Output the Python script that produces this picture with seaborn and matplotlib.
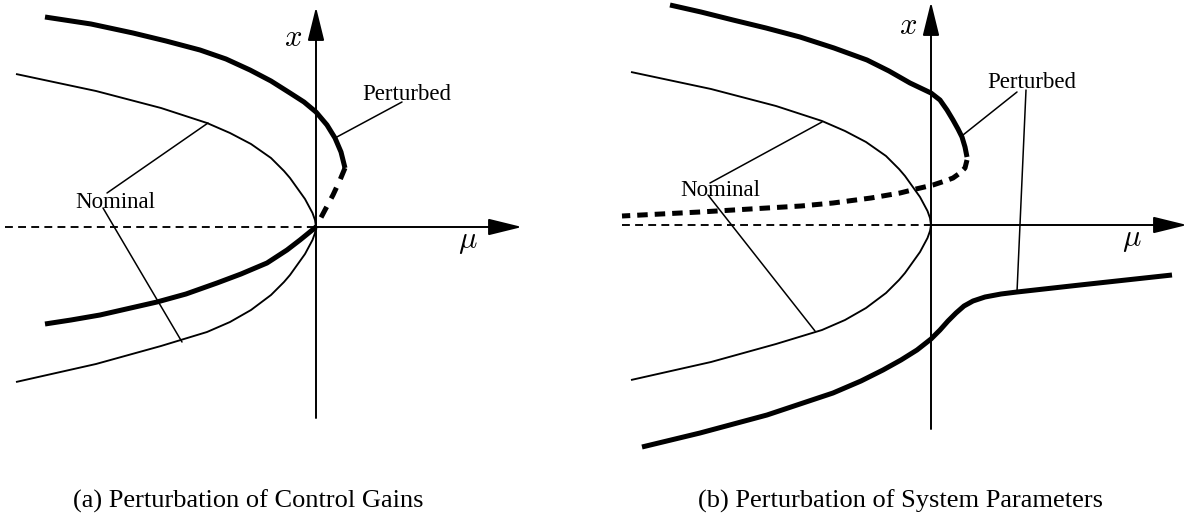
import matplotlib
matplotlib.use("Agg")
import matplotlib.pyplot as plt
import seaborn as sns

# ---------------------------------------------------------------------------
# Bifurcation branches (mu on the horizontal axis, x on the vertical axis)
# ---------------------------------------------------------------------------
# nominal pitchfork, shared by both panels
nom_mu = [-3.00, -2.20, -1.55, -1.09, -0.86, -0.65, -0.45, -0.32, -0.26,
          -0.21, -0.16, -0.11, -0.035, -0.01, 0.0]
nom_up = [1.53, 1.36, 1.19, 1.04, 0.94, 0.83, 0.69, 0.56, 0.49,
          0.42, 0.35, 0.28, 0.14, 0.07, 0.0]
nom_lo = [-1.55, -1.37, -1.19, -1.05, -0.95, -0.83, -0.68, -0.55, -0.48,
          -0.41, -0.34, -0.27, -0.13, -0.06, 0.0]

# (a) perturbation of control gains
a_up_mu = [-2.71, -2.25, -1.83, -1.50, -1.16, -0.90, -0.66, -0.45, -0.26,
           -0.12, 0.00, 0.11, 0.19, 0.25, 0.29]
a_up_x = [2.10, 2.03, 1.94, 1.86, 1.77, 1.68, 1.57, 1.46, 1.34,
          1.25, 1.15, 1.02, 0.89, 0.75, 0.59]
a_unst_mu = [0.29, 0.24, 0.17, 0.09, 0.00]
a_unst_x = [0.59, 0.47, 0.32, 0.17, 0.00]
a_lo_mu = [-2.71, -2.45, -2.16, -1.59, -1.30, -0.99, -0.75, -0.49, -0.29,
           -0.16, -0.08, 0.00]
a_lo_x = [-0.97, -0.93, -0.88, -0.75, -0.67, -0.56, -0.47, -0.36, -0.23,
          -0.13, -0.065, 0.00]
a_triv_mu = [-3.11, 0.0]

# (b) perturbation of system parameters
b_up_mu = [-2.61, -2.30, -1.98, -1.65, -1.31, -0.97, -0.64, -0.42, -0.21,
           0.00, 0.09, 0.16, 0.22, 0.27, 0.31, 0.34, 0.36]
b_up_x = [2.20, 2.13, 2.05, 1.97, 1.88, 1.77, 1.65, 1.54, 1.42,
          1.32, 1.25, 1.15, 1.05, 0.96, 0.88, 0.78, 0.68]
b_unst_mu = [0.36, 0.34, 0.29, 0.22, 0.14, 0.02, -0.15, -0.31, -0.60,
             -0.98, -1.30, -1.64, -2.31, -3.09]
b_unst_x = [0.65, 0.57, 0.52, 0.47, 0.44, 0.40, 0.36, 0.32, 0.27,
            0.22, 0.19, 0.17, 0.13, 0.09]
b_lo_mu = [-2.89, -2.31, -1.64, -0.98, -0.70, -0.48, -0.30, -0.14, 0.00,
           0.09, 0.17, 0.25, 0.33, 0.42, 0.54, 0.70, 0.86, 1.49, 2.41]
b_lo_x = [-2.22, -2.08, -1.90, -1.68, -1.56, -1.45, -1.35, -1.25, -1.14,
          -1.05, -0.96, -0.88, -0.81, -0.76, -0.72, -0.69, -0.67, -0.60, -0.50]
b_triv_mu = [-3.09, 0.0]

captions = ["(a) Perturbation of Control Gains", "(b) Perturbation of System Parameters"]

sns.set_theme(style="white")
plt.rcParams["font.family"] = ["Liberation Serif", "DejaVu Serif"]
plt.rcParams["mathtext.fontset"] = "cm"
plt.rcParams["text.color"] = "black"

fig = plt.figure(figsize=(11.98, 5.25), dpi=100)
W, H = 1198.0, 525.0


def panel_axes(left_px, right_px, ox, oy, top_px=0, bottom_px=470):
    """Axes whose data units are 100 px, with the origin at pixel (ox, oy)."""
    ax = fig.add_axes([left_px / W, 1 - bottom_px / H,
                       (right_px - left_px) / W, (bottom_px - top_px) / H])
    ax.set_xlim((left_px - ox) / 100, (right_px - ox) / 100)
    ax.set_ylim((oy - bottom_px) / 100, (oy - top_px) / 100)
    ax.set_axis_off()
    return ax


THIN, THICK = 1.35, 3.6


def curve(ax, mu, x, lw, ls="-"):
    sns.lineplot(x=mu, y=x, sort=False, estimator=None, color="black",
                 lw=lw, linestyle=ls, ax=ax, solid_capstyle="butt",
                 solid_joinstyle="round", dash_joinstyle="round")


def axes_arrows(ax, mu_tip, x_bot, x_tip):
    style = dict(arrowstyle="-|>,head_length=1.3,head_width=0.32",
                 mutation_scale=16, lw=1.4, color="black",
                 shrinkA=0, shrinkB=0)
    ax.annotate("", xy=(mu_tip, 0), xytext=(0, 0), arrowprops=style)
    ax.annotate("", xy=(0, x_tip), xytext=(0, x_bot), arrowprops=style)


def leader(ax, p, q):
    sns.lineplot(x=[p[0], q[0]], y=[p[1], q[1]], sort=False, estimator=None,
                 color="black", lw=1.1, ax=ax)


# ---------------- panel (a) ----------------
axa = panel_axes(0, 600, 316, 227)
axes_arrows(axa, 2.06, -1.91, 2.20)
curve(axa, a_triv_mu, [0, 0], THIN, (0, (4.2, 2.8)))
curve(axa, nom_mu, nom_up, THIN)
curve(axa, nom_mu, nom_lo, THIN)
curve(axa, a_up_mu, a_up_x, THICK)
curve(axa, a_unst_mu, a_unst_x, THICK, (0, (2.4, 1.9)))
curve(axa, a_lo_mu, a_lo_x, THICK)
axa.text(-2.01, 0.25, "Nominal", ha="center", va="center", fontsize=16.5)
leader(axa, (-2.09, 0.34), (-1.08, 1.04))
leader(axa, (-2.13, 0.19), (-1.34, -1.15))
axa.text(0.91, 1.32, "Perturbed", ha="center", va="center", fontsize=16.5)
leader(axa, (0.86, 1.25), (0.19, 0.89))
axa.text(-0.23, 1.89, r"$x$", ha="center", va="center", fontsize=22)
axa.text(1.52, -0.15, r"$\mu$", ha="center", va="center", fontsize=22)

# ---------------- panel (b) ----------------
axb = panel_axes(600, 1198, 931, 225)
axes_arrows(axb, 2.56, -2.04, 2.23)
curve(axb, b_triv_mu, [0, 0], THIN, (0, (4.2, 2.8)))
curve(axb, nom_mu, nom_up, THIN)
curve(axb, nom_mu, nom_lo, THIN)
curve(axb, b_up_mu, b_up_x, THICK)
curve(axb, b_unst_mu, b_unst_x, THICK, (0, (2.1, 1.4)))
curve(axb, b_lo_mu, b_lo_x, THICK)
axb.text(-2.11, 0.35, "Nominal", ha="center", va="center", fontsize=16.5)
leader(axb, (-2.21, 0.42), (-1.09, 1.03))
leader(axb, (-2.23, 0.30), (-1.16, -1.06))
axb.text(1.01, 1.42, "Perturbed", ha="center", va="center", fontsize=16.5)
leader(axb, (0.86, 1.33), (0.32, 0.90))
leader(axb, (0.95, 1.35), (0.86, -0.67))
axb.text(-0.23, 1.98, r"$x$", ha="center", va="center", fontsize=22)
axb.text(2.01, -0.15, r"$\mu$", ha="center", va="center", fontsize=22)

# captions
fig.text(248 / W, 1 - 501 / H, captions[0], ha="center", va="center", fontsize=19)
fig.text(901 / W, 1 - 501 / H, captions[1], ha="center", va="center", fontsize=19)

fig.savefig("out.png", dpi=100, facecolor="white")
